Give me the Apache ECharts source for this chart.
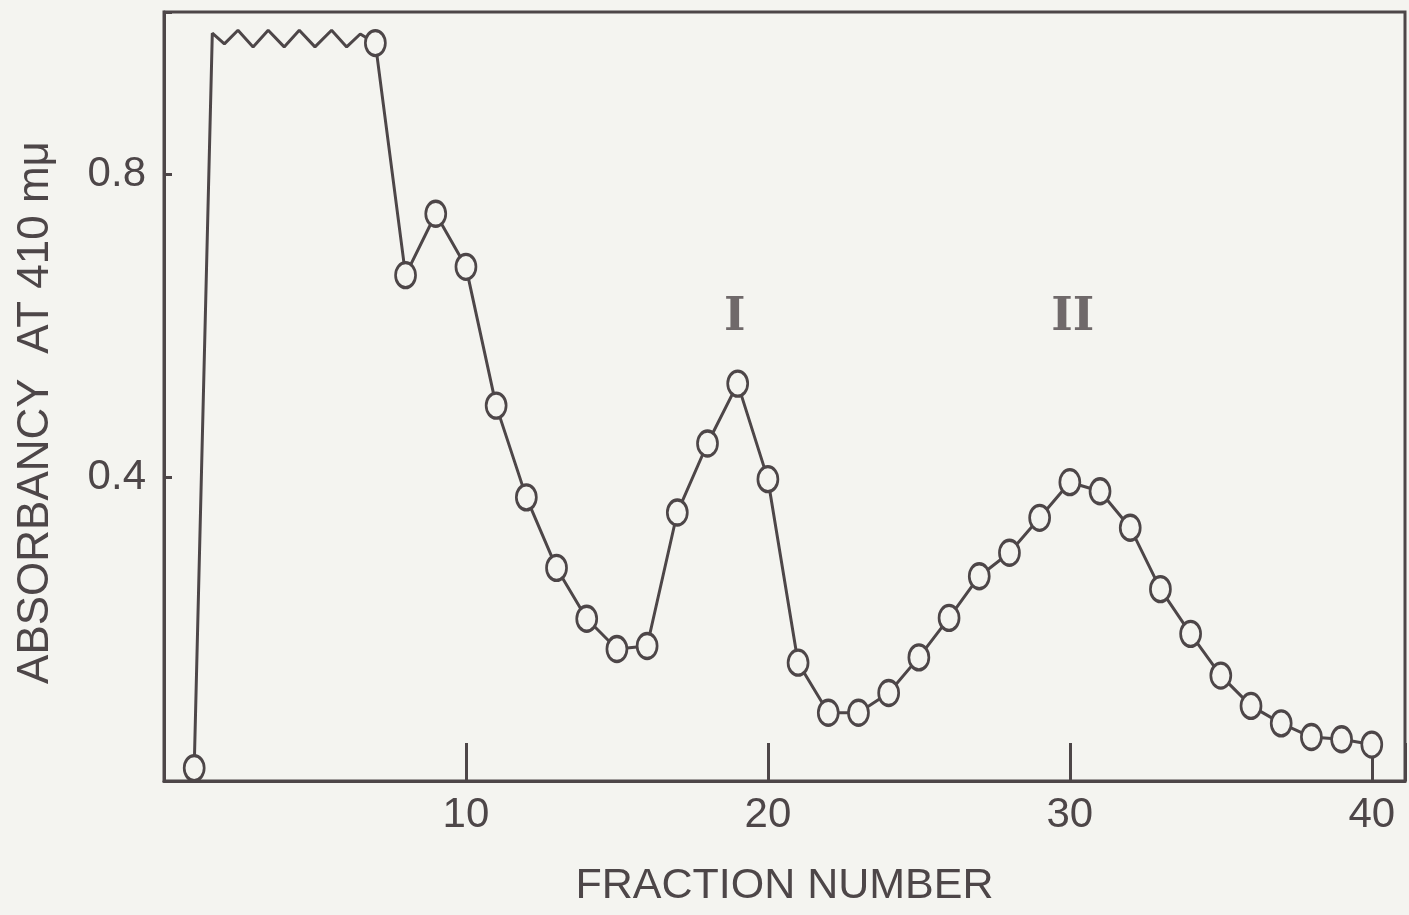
<!DOCTYPE html>
<html>
<head>
<meta charset="utf-8">
<script src="https://cdn.jsdelivr.net/npm/echarts@6/dist/echarts.min.js"></script>
<style>
  html, body { margin: 0; padding: 0; background: #f4f4f0; }
  #chart { width: 1409px; height: 915px; }
</style>
</head>
<body>
<div id="chart"></div>
<script>
// Measured fractions (open circles)
const fractions = [1, 7, 8, 9, 10, 11, 12, 13, 14, 15, 16, 17, 18, 19, 20,
  21, 22, 23, 24, 25, 26, 27, 28, 29, 30, 31, 32, 33, 34, 35, 36, 37, 38, 39, 40];
const absorbancy = [0.017, 0.973, 0.667, 0.748, 0.678, 0.495, 0.374, 0.281, 0.214, 0.174, 0.178,
  0.354, 0.445, 0.524, 0.398, 0.156, 0.090, 0.090, 0.116, 0.163, 0.215, 0.270, 0.301,
  0.347, 0.394, 0.382, 0.334, 0.253, 0.194, 0.139, 0.099, 0.076, 0.058, 0.055, 0.048];

// Off-scale (above range) trace drawn as a zigzag between fraction 1 and 7
const offScaleX = [1, 1.6, 2.0, 2.45, 2.95, 3.45, 3.98, 4.48, 5.0, 5.55, 6.05, 6.5, 7];
const offScaleY = [0.017, 0.986, 0.972, 0.99, 0.968, 0.99, 0.968, 0.99, 0.968, 0.99, 0.968, 0.985, 0.973];

// Peak labels
const peakLabels = ['I', 'II'];
const peakX = [18.9, 30.1];
const peakY = [0.61, 0.61];

const xTickValues = [10, 20, 30, 40];
const yTickValues = [0.4, 0.8];

const ink = '#4d4648';
const bg = '#f4f4f0';
const sans = 'Liberation Sans';

// Build main series data with a break wherever fractions are not consecutive
const mainData = [];
fractions.forEach((f, i) => {
  if (i > 0 && f - fractions[i - 1] > 1) {
    mainData.push([(f + fractions[i - 1]) / 2, '-']);
  }
  mainData.push([f, absorbancy[i]]);
});
const offScaleData = offScaleX.map((x, i) => [x, offScaleY[i]]);
const peakData = peakX.map((x, i) => ({ value: [x, peakY[i]], name: peakLabels[i] }));

const chart = echarts.init(document.getElementById('chart'), null, { renderer: 'canvas' });
chart.setOption({
  backgroundColor: bg,
  animation: false,
  grid: {
    left: 164, right: 4, top: 12, bottom: 134,
    show: true, borderColor: ink, borderWidth: 3, backgroundColor: 'transparent'
  },
  xAxis: {
    type: 'value',
    min: 0, max: 41.1, interval: 10,
    name: 'FRACTION NUMBER',
    nameLocation: 'middle',
    nameGap: 84,
    nameTextStyle: { fontFamily: sans, fontSize: 43, color: ink },
    axisLine: { show: true, lineStyle: { color: ink, width: 3 } },
    axisTick: { show: true, inside: true, length: 38, lineStyle: { color: ink, width: 3 } },
    axisLabel: {
      fontFamily: sans, fontSize: 42, color: ink, margin: 13,
      formatter: v => (xTickValues.indexOf(v) >= 0 ? String(v) : '')
    },
    splitLine: { show: false }
  },
  yAxis: {
    type: 'value',
    min: 0, max: 1.014, interval: 0.4,
    name: 'ABSORBANCY  AT 410 mμ',
    nameLocation: 'middle',
    nameGap: 106,
    nameRotate: 90,
    nameTextStyle: { fontFamily: sans, fontSize: 44, color: ink, padding: [0, 32, 0, 0] },
    axisLine: { show: true, lineStyle: { color: ink, width: 3 } },
    axisTick: { show: true, inside: true, length: 8, lineStyle: { color: ink, width: 3 } },
    axisLabel: {
      fontFamily: sans, fontSize: 42, color: ink, margin: 18,
      formatter: v => (yTickValues.some(t => Math.abs(t - v) < 1e-9) ? v.toFixed(1) : '')
    },
    splitLine: { show: false }
  },
  series: [
    {
      name: 'off-scale',
      type: 'line',
      data: offScaleData,
      symbol: 'none',
      lineStyle: { color: ink, width: 3 },
      z: 2
    },
    {
      name: 'absorbancy',
      type: 'line',
      data: mainData,
      connectNulls: false,
      symbol: 'circle',
      symbolSize: [20, 25],
      itemStyle: { color: bg, borderColor: ink, borderWidth: 3 },
      lineStyle: { color: ink, width: 3 },
      z: 3
    },
    {
      name: 'peaks',
      type: 'scatter',
      data: peakData,
      symbolSize: 0,
      label: {
        show: true, position: 'inside',
        formatter: p => p.name,
        fontFamily: 'DejaVu Serif', fontWeight: 'bold', fontSize: 46, color: ink
      },
      z: 4
    }
  ]
});
</script>
</body>
</html>
